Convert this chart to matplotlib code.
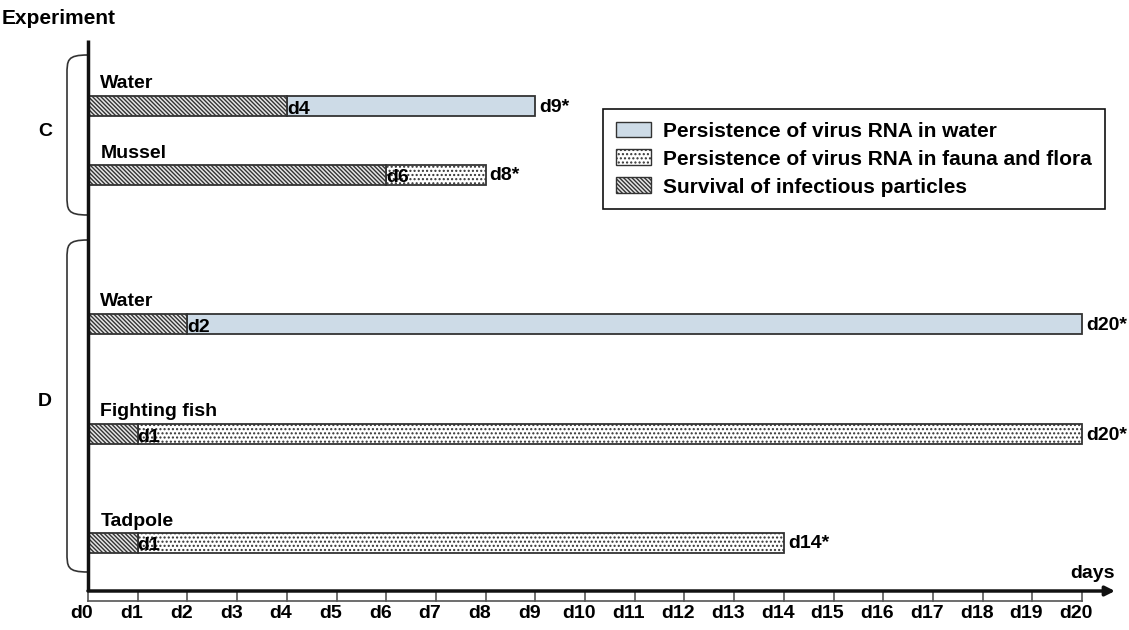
import numpy as np
import matplotlib.pyplot as plt
from matplotlib.patches import Patch, PathPatch
from matplotlib.path import Path

plt.rcParams['font.family'] = ['Liberation Sans', 'DejaVu Sans']
plt.rcParams['hatch.linewidth'] = 1.0
plt.rcParams['hatch.color'] = '#2a2a2a'

# data
rows = ['Water', 'Mussel', 'Water', 'Fighting fish', 'Tadpole']
groups = ['C', 'D']
survival_end = [4, 6, 2, 1, 1]
persist_end = [9, 8, 20, 20, 14]
persist_kind = ['water', 'fauna', 'water', 'fauna', 'fauna']
days = list(range(0, 21))
day_labels = ['d%d' % d for d in days]

# layout (y in pixels from top)
row_y = [106, 175, 324, 434, 543]
bar_h = 20
axis_y = 591
edge = '#333333'
blue = '#cddbe7'
fs = 14

fig = plt.figure(figsize=(11.29, 6.30), dpi=100)
ax = fig.add_axes([0, 0, 1, 1])
px = 20 / 994.0
ax.set_xlim(-88 * px, 20 + 47 * px)
ax.set_ylim(630, 0)
ax.axis('off')

styles = {
    'water': dict(facecolor=blue, hatch=None),
    'fauna': dict(facecolor='white', hatch='....'),
}
surv_hatch = '\\\\\\\\\\\\\\\\'

for i, name in enumerate(rows):
    y = row_y[i]
    s, e = survival_end[i], persist_end[i]
    st = styles[persist_kind[i]]
    ax.barh(y, e - s, left=s, height=bar_h, facecolor=st['facecolor'],
            hatch=st['hatch'], edgecolor=edge, linewidth=1.3)
    ax.barh(y, s, left=0, height=bar_h, facecolor='#e6e6e6',
            hatch=surv_hatch, edgecolor=edge, linewidth=1.3)
    ax.text(s, y + 3, 'd%d' % s, fontsize=fs, fontweight='bold',
            ha='left', va='center')
    ax.text(e + 0.08, y + 1, 'd%d*' % e, fontsize=fs, fontweight='bold',
            ha='left', va='center')
    ax.text(0.25, y - 22, name, fontsize=fs, fontweight='bold',
            ha='left', va='center')

# axes lines
ax.plot([0, 0], [40, axis_y], color='#111111', lw=2.5, solid_capstyle='butt')
ax.annotate('', xy=(20 + 33 * px, axis_y), xytext=(0, axis_y),
            arrowprops=dict(arrowstyle='-|>', color='#111111', lw=2.5,
                            mutation_scale=14, shrinkA=0, shrinkB=0))
ax.plot([0, 20], [601, 601], color='#555555', lw=1.2)
for d in days:
    ax.plot([d, d], [axis_y, 601], color='#555555', lw=1.2)
    ax.text(d - 0.12, 614, day_labels[d], fontsize=fs, fontweight='bold',
            ha='center', va='center')
ax.text(20 + 33 * px, 574, 'days', fontsize=fs, fontweight='bold',
        ha='right', va='center')
ax.text(-86 * px, 18, 'Experiment', fontsize=15, fontweight='bold',
        ha='left', va='center')

# braces
brace_span = [(55, 215), (240, 572)]
for g, (top, bot) in zip(groups, brace_span):
    x0, x1 = 0, -21 * px
    verts = [(x0, top), (x1, top), (x1, top + 5), (x1, top + 20),
             (x1, bot - 20),
             (x1, bot - 5), (x1, bot), (x0, bot)]
    codes = [Path.MOVETO, Path.CURVE4, Path.CURVE4, Path.CURVE4,
             Path.LINETO, Path.CURVE4, Path.CURVE4, Path.CURVE4]
    ax.add_patch(PathPatch(Path(verts, codes), facecolor='none',
                           edgecolor='#333333', lw=1.2))
    ax.text(-43 * px, (top + bot) / 2 - 4, g, fontsize=fs, fontweight='bold',
            ha='center', va='center')

handles = [
    Patch(facecolor=blue, edgecolor=edge, label='Persistence of virus RNA in water'),
    Patch(facecolor='white', hatch='....', edgecolor=edge,
          label='Persistence of virus RNA in fauna and flora'),
    Patch(facecolor='#e6e6e6', hatch=surv_hatch, edgecolor=edge,
          label='Survival of infectious particles'),
]
leg = ax.legend(handles=handles, loc='upper left',
                bbox_to_anchor=(603 / 1129, 1 - 109 / 630),
                prop={'weight': 'bold', 'size': 15}, fancybox=False,
                edgecolor='#111111', framealpha=1, handlelength=1.7,
                handleheight=0.8, labelspacing=0.42, borderpad=0.6,
                handletextpad=0.6, borderaxespad=0)
leg.get_frame().set_linewidth(1.2)

fig.savefig('out.png', dpi=100)
